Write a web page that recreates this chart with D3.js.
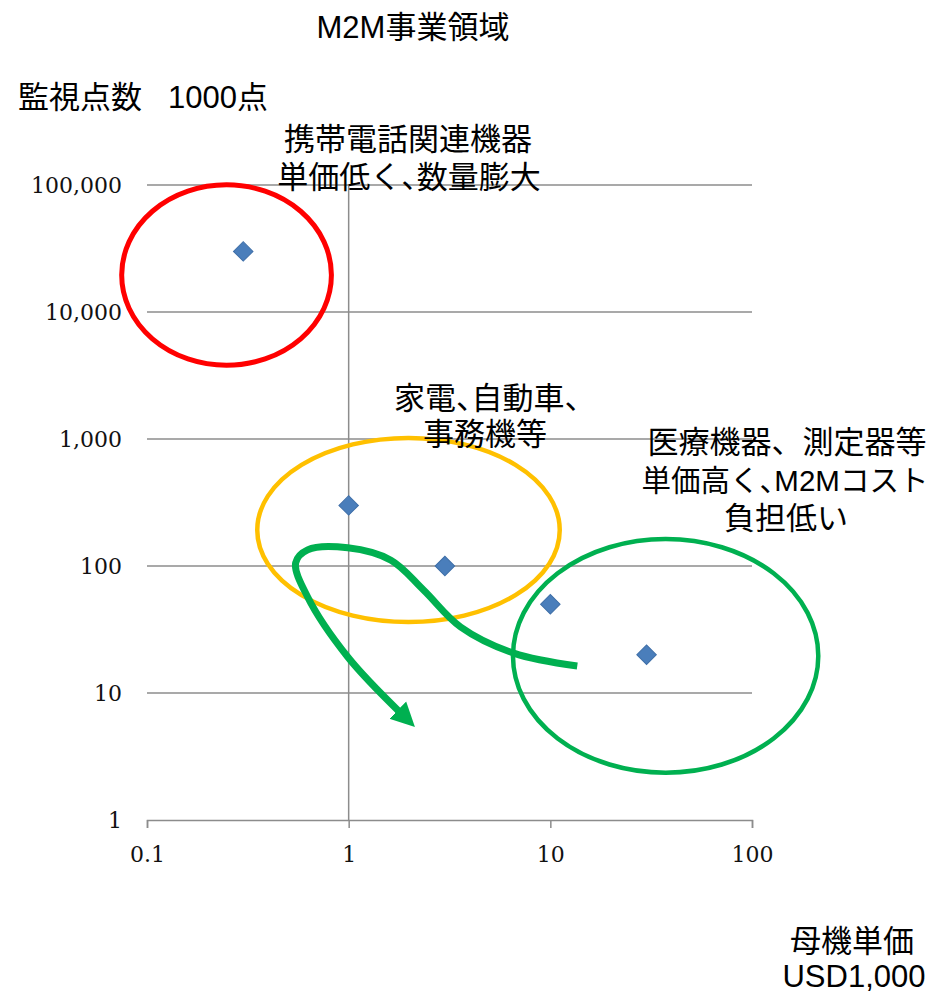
<!doctype html>
<html lang="ja">
<head>
  <meta charset="utf-8">
  <title>M2M事業領域</title>
  <script src="https://d3js.org/d3.v7.min.js"></script>
  <style>
    body { margin: 0; background: #fff; }
    .label { font-family: "Liberation Sans", "Noto Sans CJK JP", sans-serif; fill: #000; }
    .tick-label { font-family: "DejaVu Serif", "Liberation Serif", serif; fill: #111; }
  </style>
</head>
<body>
<div id="chart"></div>
<script>
  // Data ------------------------------------------------------------------------------------------
  const unitPrice = [0.3, 1, 3, 10, 30];            // 母機単価 (USD1,000)
  const monitorPoints = [30000, 300, 100, 50, 20];  // 監視点数 (1000点)

  const xTicks = [0.1, 1, 10, 100];
  const xTickLabels = ["0.1", "1", "10", "100"];
  const yTicks = [1, 10, 100, 1000, 10000, 100000];
  const yTickLabels = ["1", "10", "100", "1,000", "10,000", "100,000"];

  // annotation groups: centre (data units), half-size in decades
  const groupNames = ["携帯", "家電", "医療"];
  const groupCentreX = [0.248, 1.98, 37.3];
  const groupCentreY = [19550, 192, 19.6];
  const groupSpanX = [0.52, 0.75, 0.757];
  const groupSpanY = [0.71, 0.725, 0.92];
  const groupColors = ["#ff0000", "#ffc000", "#00b050"];

  // green arrow path (data units)
  const arrowX = [13.6, 6.58, 3.59, 2.35, 1.62, 0.99, 0.626, 0.546, 0.626, 0.99, 1.81];
  const arrowY = [16.3, 20.6, 33.1, 64.7, 111, 139, 134, 106, 57, 19.2, 6.96];

  // Canvas ----------------------------------------------------------------------------------------
  const width = 931;
  const height = 993;

  const svg = d3.select("#chart")
    .append("svg")
    .attr("width", width)
    .attr("height", height)
    .attr("viewBox", [0, 0, width, height]);

  const x = d3.scaleLog().domain([0.1, 100]).range([147, 752]);
  const y = d3.scaleLog().domain([1, 100000]).range([820, 185]);

  // Grid and axes ---------------------------------------------------------------------------------
  const gridColor = "#8c8c8c";

  svg.append("g")
    .selectAll("line")
    .data(yTicks.slice(1))
    .join("line")
    .attr("x1", x(0.1))
    .attr("x2", x(100))
    .attr("y1", d => y(d))
    .attr("y2", d => y(d))
    .style("stroke", gridColor)
    .style("stroke-width", 1.5);

  const xAxis = svg.append("g")
    .attr("transform", "translate(0," + y(1) + ")")
    .call(d3.axisBottom(x).tickValues(xTicks).tickFormat((d, i) => xTickLabels[i]).tickSize(8).tickPadding(18));

  xAxis.select(".domain").style("stroke", gridColor).style("stroke-width", 1.5);
  xAxis.selectAll("line").style("stroke", gridColor).style("stroke-width", 1.5);
  xAxis.selectAll("text")
    .attr("class", "tick-label")
    .style("font-size", "22px")
    .attr("fill", "#111");

  // vertical axis crosses at x = 1
  svg.append("line")
    .attr("x1", x(1))
    .attr("x2", x(1))
    .attr("y1", y(100000))
    .attr("y2", y(1))
    .style("stroke", gridColor)
    .style("stroke-width", 1.5);

  svg.append("g")
    .selectAll("text")
    .data(yTicks)
    .join("text")
    .attr("class", "tick-label")
    .attr("x", 122)
    .attr("y", d => y(d))
    .attr("dy", "0.35em")
    .attr("text-anchor", "end")
    .style("font-size", "22px")
    .text((d, i) => yTickLabels[i]);

  // Points ----------------------------------------------------------------------------------------
  svg.append("g")
    .selectAll("path")
    .data(unitPrice.map((d, i) => [d, monitorPoints[i]]))
    .join("path")
    .attr("transform", d => "translate(" + x(d[0]) + "," + y(d[1]) + ") rotate(45)")
    .attr("d", d3.symbol().type(d3.symbolSquare).size(190))
    .style("fill", "#4a7ebb")
    .style("stroke", "#3f6fa8")
    .style("stroke-width", 1);

  // Group ellipses --------------------------------------------------------------------------------
  const decadeX = x(10) - x(1);
  const decadeY = y(1) - y(10);

  svg.append("g")
    .selectAll("ellipse")
    .data(groupNames)
    .join("ellipse")
    .attr("cx", (d, i) => x(groupCentreX[i]))
    .attr("cy", (d, i) => y(groupCentreY[i]))
    .attr("rx", (d, i) => groupSpanX[i] * decadeX)
    .attr("ry", (d, i) => groupSpanY[i] * decadeY)
    .style("fill", "none")
    .style("stroke", (d, i) => groupColors[i])
    .style("stroke-width", (d, i) => i === 0 ? 5 : 4.5);

  // Green arrow -----------------------------------------------------------------------------------
  svg.append("defs")
    .append("marker")
    .attr("id", "arrow-head")
    .attr("markerUnits", "userSpaceOnUse")
    .attr("viewBox", "0 -13 24 26")
    .attr("refX", 4)
    .attr("refY", 0)
    .attr("markerWidth", 24)
    .attr("markerHeight", 26)
    .attr("orient", "auto")
    .append("path")
    .attr("d", "M0,-12L24,0L0,12Z")
    .style("fill", "#00b050");

  const arrowLine = d3.line()
    .x(d => x(d[0]))
    .y(d => y(d[1]))
    .curve(d3.curveCatmullRom.alpha(0.5));

  svg.append("path")
    .datum(arrowX.map((d, i) => [d, arrowY[i]]))
    .attr("d", arrowLine)
    .attr("marker-end", "url(#arrow-head)")
    .style("fill", "none")
    .style("stroke", "#00b050")
    .style("stroke-width", 7);

  // Texts -----------------------------------------------------------------------------------------
  // half: squeeze the 、 to half width as in the original slide
  const texts = [
    { t: "M2M事業領域", x: 413, y: 27 },
    { t: "携帯電話関連機器", x: 408, y: 139 },
    { t: "単価低く、数量膨大", x: 409, y: 177, half: true },
    { t: "家電、自動車、", x: 487, y: 398, half: true },
    { t: "事務機等", x: 485, y: 434 },
    { t: "医療機器、測定器等", x: 787, y: 442 },
    { t: "単価高く、M2Mコスト", x: 785, y: 480, half: true, size: 29.5 },
    { t: "負担低い", x: 786, y: 518 },
    { t: "母機単価", x: 852, y: 941 },
    { t: "USD1,000", x: 854, y: 976 }
  ];

  svg.append("g")
    .selectAll("text")
    .data(texts)
    .join("text")
    .attr("class", "label")
    .attr("x", d => d.x)
    .attr("y", d => d.y)
    .attr("dy", "0.36em")
    .attr("text-anchor", "middle")
    .style("font-size", d => (d.size || 31) + "px")
    .style("font-feature-settings", d => d.half ? "\"halt\"" : null)
    .text(d => d.t);

  const yTitle = svg.append("text")
    .attr("class", "label")
    .attr("x", 18)
    .attr("y", 97)
    .attr("dy", "0.36em")
    .style("font-size", "31px");
  yTitle.append("tspan").text("監視点数");
  yTitle.append("tspan").attr("dx", 26).text("1000点");
</script>
</body>
</html>
